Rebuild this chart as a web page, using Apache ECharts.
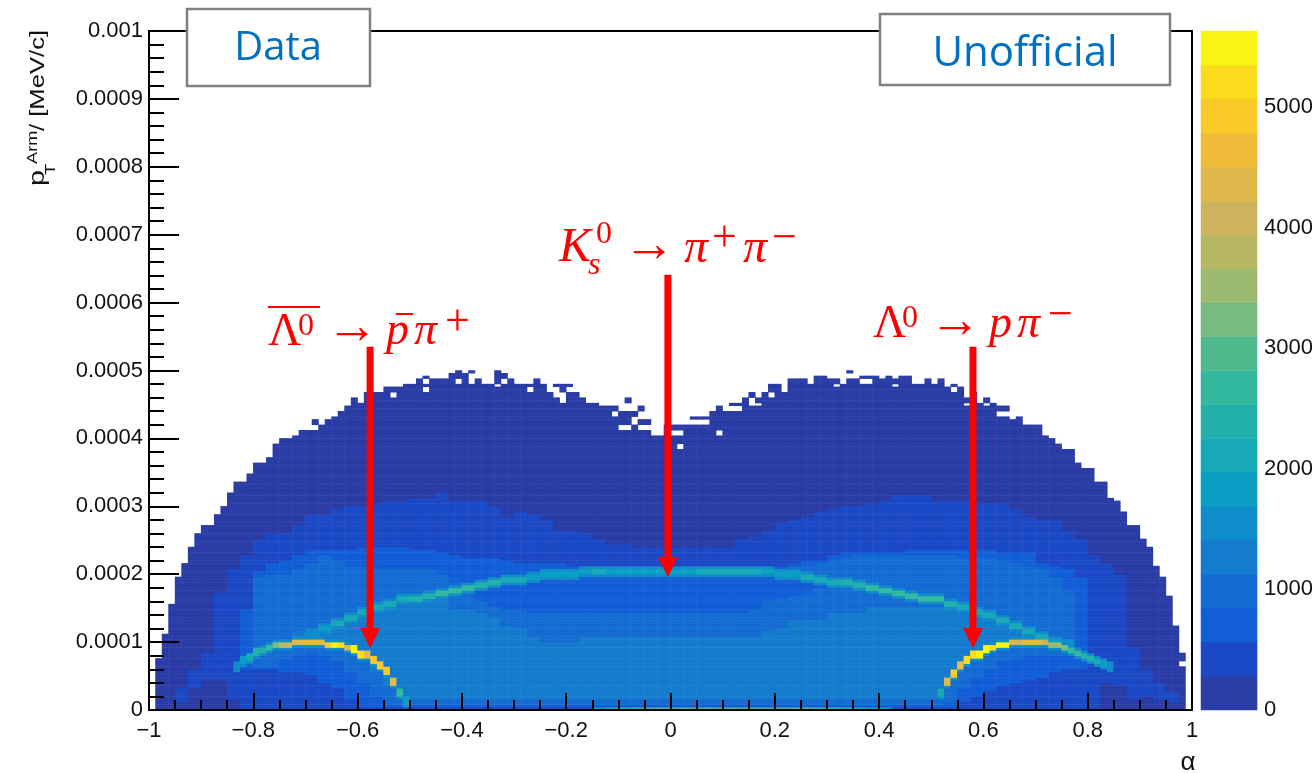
<!DOCTYPE html>
<html><head><meta charset="utf-8">
<style>html,body{margin:0;padding:0;background:#fff}#c{width:1316px;height:773px}</style>
<script src="https://cdn.jsdelivr.net/npm/echarts@6/dist/echarts.min.js"></script>
</head><body><div id="c"></div>
<script>
// Tick labels
const xTickLabels = ['\u22121','\u22120.8','\u22120.6','\u22120.4','\u22120.2','0','0.2','0.4','0.6','0.8','1'];
const yTickLabels = ['0','0.0001','0.0002','0.0003','0.0004','0.0005','0.0006','0.0007','0.0008','0.0009','0.001'];
const colorTicks = [0,1000,2000,3000,4000,5000];
const COLOR_MAX = 5630;
// The 20 colour bands of the z scale, low to high
const palette = ['#2a3ca6','#1b49c6','#115ed7','#146cd3','#147bcd','#0e8dca','#0b9ec5','#17a9b6','#23b0ab','#33b8a0',
  '#50ba8e','#78bb80','#9bbb70','#b8b862','#cdb35e','#e0b84c','#f0bb38','#fcca28','#fbdc1c','#f8f414'];
const NCOL = 160, NROW = 250;
// Height (row number, 4e-6 per row) of the filled area per alpha column
const outerTop = [0,19,28,39,49,54,60,65,68,68,72,75,80,84,84,87,91,91,93,98,
 100,100,101,103,103,107,105,107,108,110,112,115,113,117,117,117,119,119,119,120,
 120,122,123,122,122,122,124,125,124,125,122,120,120,125,124,122,120,120,120,122,
 120,120,120,120,120,117,115,113,113,112,112,112,110,115,110,112,107,101,101,105,
 105,105,105,108,108,108,110,112,110,113,113,115,117,115,117,120,120,117,122,122,
 122,120,123,123,122,122,120,125,122,123,123,123,122,123,122,123,123,120,120,122,
 120,122,119,120,119,115,117,113,115,113,112,112,107,108,105,105,105,101,100,98,
 96,96,91,89,89,84,84,78,77,73,68,68,63,60,53,49,42,31,21,0];
// Empty bins inside the filled area: column, first row, end row
const holes = [[25,103,105],[37,115,117],[42,120,122],[42,117,119],[47,120,122],[49,120,124],[53,119,120],[54,120,122],
 [58,117,119],[61,117,120],[62,115,119],[63,113,117],[64,117,119],[71,108,110],[72,103,105],[73,110,113],[73,103,105],
 [74,105,108],[75,107,110],[75,103,105],[76,103,105],[80,101,103],[81,101,103],[81,96,98],[83,105,107],[84,105,107],
 [85,105,107],[87,101,103],[89,110,112],[90,110,112],[92,112,115],[93,112,113],[95,115,117],[105,119,120],[107,122,124],
 [109,120,122],[110,120,122],[114,119,120],[123,117,119],[125,112,113],[128,112,113],[130,108,110],[131,108,110],[158,16,18]];
// Broad bands per 2-column section: first section, then upper and lower rows
const band1Start = 2;
const band1Top = [8,15,21,43,52,57,63,65,65,68,72,72,74,75,75,76,77,77,78,78,80,77,77,77,75,71,73,72,70,66,66,65,63,61,61,60,60,60,
 60,60,60,60,60,63,64,66,69,70,71,73,74,75,75,76,77,79,79,79,77,77,77,76,76,76,74,71,70,70,66,63,57,54,50,23,15,10,7];
const band1Low = [3,8,11,11,4,0,0,0,0,0,0,0,0,0,0,0,0,0,0,0,0,0,0,0,0,0,0,0,0,0,0,0,0,0,0,0,0,0,
 0,0,0,0,0,0,0,0,0,0,0,0,0,0,0,0,0,0,0,0,0,0,0,0,0,0,0,0,0,0,0,0,0,10,9,4,5,4,3];
const band2Start = 7;
const band2Top = [37,51,54,55,57,59,59,59,59,60,60,60,60,59,59,58,57,56,56,56,55,54,54,54,54,53,53,53,53,53,53,53,53,53,53,53,53,53,53,53,53,53,
 54,55,55,57,58,58,58,58,58,59,59,59,59,59,59,59,58,58,58,54,53,52,49];
const band2Low = [15,15,15,14,14,13,10,8,4,1,1,1,1,1,1,1,1,1,1,1,1,1,1,1,1,1,1,1,1,1,1,1,1,1,1,1,1,1,1,1,1,1,
 1,1,1,1,1,1,1,1,1,1,1,1,1,3,5,7,9,10,11,12,14,15,15,15].slice(0,66);
const band3Start = 8;
const band3Top = [49,50,50,52,54,57,55,53,53,52,52,52,52,52,50,47,47,47,47,47,50,50,50,50,50,50,50,50,50,50,50,50,50,50,50,50,50,50,50,50,50,
 53,53,54,55,56,57,57,57,57,57,57,57,57,56,56,56,55,54,53,52,49,44];
const band3Low = [16,16,19,20,21,20,18,14,10,5,2,2,2,2,2,2,2,2,2,2,2,2,2,2,2,2,2,2,2,2,2,2,2,2,2,2,2,2,2,2,2,2,2,2,2,2,2,2,2,2,2,2,
 2,3,8,12,15,18,19,20,20,20,20];
const underRidgeStart = 25;
const underRidgeTop = [47,48,48,49,50,50,50,50,50,50,50,50,50,50,50,50,50,50,50,50,50,50,50,50,49,48,48];
const underRidgeLow = [40,38,37,37,36,36,36,36,36,36,36,36,36,36,36,36,36,36,36,36,36,37,40,41,42,43,45];
const band4Start = 13;
const band4Top = [30,31,33,35,37,38,39,40,40,41,37,37,36,34,31,30,27,25,25,25,27,27,27,27,27,27,27,27,27,27,27,27,27,27,
 29,30,33,33,33,36,36,36,38,38,38,38,38,38,39,36,35,33,31,29];
const band4Low = [26,24,22,18,14,9,4,4,4,4,4,4,4,4,4,4,4,4,4,4,4,4,4,4,4,4,4,4,4,4,4,4,4,4,4,4,4,4,4,4,4,4,4,4,4,4,4,4,11,18,21,24,25,26];
// K0s arc per section
const ridgeStart = 11;
const ridgeRow = [27,28,30,32,34,36,38,39,41,41,42,43,44,45,46,47,48,48,49,50,50,50,51,51,51,51,51,51,51,51,
 51,51,51,51,51,51,51,50,50,49,48,47,47,46,45,44,43,42,41,41,39,38,36,35,33,31,29,27,25,24];
const ridgeLevel = [4,5,6,7,7,7,7,7,7,8,8,9,9,9,8,8,7,7,6,6,6,6,6,7,6,6,6,6,6,6,
 6,7,7,7,7,7,6,6,6,7,7,7,8,8,9,9,9,9,9,9,8,7,7,7,7,7,7,7,6,5];
// Lambda-bar arc per column
const lambdaBarStart = 13;
const lambdaBarRow = [16,18,19,21,22,23,24,24,24,25,25,25,25,25,24,24,24,23,22,20,20,18,16,14,10,6,3];
const lambdaBarLevel = [5,6,7,8,8,9,11,13,14,15,15,15,15,15,17,19,18,15,19,18,15,17,17,17,15,9,6];
// Lambda arc per column
const lambdaStart = 121;
const lambdaRow = [6,10,13,16,18,20,20,22,23,24,24,25,25,25,25,25,25,24,24,23,22,21,20,19,18,17,16];
const lambdaLevel = [7,15,17,16,18,18,19,19,18,19,19,15,14,15,15,15,14,12,12,11,9,9,8,8,7,6,5];
// Bright lowest row: first section and level per section
const floorStart = 34;
const floorLevel = [6,7,8,9,10,10,10,10,10,10,10,10,10,10,10,10,10,9,9,8,7,6,6];
// Annotation arrows: alpha, start pT, tip pT
const arrowAlpha = [-0.576,-0.005,0.58];
const arrowStart = [0.000535,0.000641,0.000535];
const arrowTip = [0.0000913,0.000196,0.0000913];

const cells = Array.from({length:NCOL},(_,c)=>new Int8Array(NROW).fill(-1));
for (let c=0;c<NCOL;c++) for (let r=0;r<outerTop[c];r++) cells[c][r]=0;
function put(c,r,l){ if(c>=0&&c<NCOL&&r>=0&&r<NROW&&cells[c][r]>=0) cells[c][r]=l; }
function band(level,start,tops,lows){
  tops.forEach((t,k)=>{ const s=start+k; for(const c of [2*s,2*s+1]) for(let r=lows[k];r<t;r++) put(c,r,level); });
}
band(1,band1Start,band1Top,band1Low);
band(2,band2Start,band2Top,band2Low);
band(3,band3Start,band3Top,band3Low);
band(2,underRidgeStart,underRidgeTop,underRidgeLow);
band(4,band4Start,band4Top,band4Low);
ridgeRow.forEach((r,k)=>{ const s=ridgeStart+k, l=ridgeLevel[k];
  for(const c of [2*s,2*s+1]){
    for(let q=r-2;q<=r+1;q++) if(cells[c][q]<Math.min(5,l)) put(c,q,Math.min(5,l));
    put(c,r,l); put(c,r-1,l);
  }});
function arc(start,rows,levels){
  rows.forEach((r,k)=>{ const c=start+k, l=levels[k];
    for(let q=r-2;q<=r+1;q++) if(cells[c][q]<Math.min(5,l)) put(c,q,Math.min(5,l));
    const steep=Math.abs((rows[k+1]??r)-r)>=2||Math.abs(r-(rows[k-1]??r))>=2;
    put(c,r,l); put(c,r-1,l); if(steep) put(c,r+1,l);
  });
}
arc(lambdaBarStart,lambdaBarRow,lambdaBarLevel);
arc(lambdaStart,lambdaRow,lambdaLevel);
floorLevel.forEach((l,k)=>{ const s=floorStart+k; put(2*s,0,l); put(2*s+1,0,l); });
holes.forEach(([c,a,b])=>{ for(let r=a;r<b;r++) cells[c][r]=-1; });

const step = COLOR_MAX/palette.length;
const toValue = l => (l+0.5)*step;
const heat=[];
cells.forEach((col,c)=>col.forEach((l,r)=>{ if(l>=0) heat.push([c,r,toValue(l)]); }));
const barData = palette.map((_,k)=>[0,k,toValue(k)]);

const RED='#FF0000';
const mathText = [
 // text, x, y middle, size, italic
 ['K',559,248,48,1],['0',596,235,32,0],['s',588,266,32,1],['\u2192',623,247,52,0],['\u03c0',684,249,48,1],['+',712,239,44,0],['\u03c0',743,249,48,1],['\u2212',772,239,44,0],
 ['\u039b',268,333,46,0],['0',298,327,32,0],['\u2192',326,329,52,0],['p',386,332,46,1],['\u03c0',414,332,46,1],['+',445,323,44,0],
 ['\u039b',873,325,46,0],['0',902,319,32,0],['\u2192',929,323,52,0],['p',989,325,46,1],['\u03c0',1017,325,46,1],['\u2212',1048,316,44,0]
];
const graphicEls = [
 {type:'rect',z:100,shape:{x:187,y:9,width:183,height:77},style:{fill:'#fff',stroke:'#808080',lineWidth:2.5}},
 {type:'rect',z:100,shape:{x:880,y:14,width:290,height:71},style:{fill:'#fff',stroke:'#808080',lineWidth:2.5}},
 {type:'text',z:101,style:{text:'Data',x:278,y:49,align:'center',verticalAlign:'middle',font:'40px "Open Sans"',fill:'#0070C0'}},
 {type:'text',z:101,style:{text:'Unofficial',x:1025,y:54,align:'center',verticalAlign:'middle',font:'42px "Open Sans"',fill:'#0070C0'}},
 {type:'rect',z:101,shape:{x:268,y:306,width:52,height:2},style:{fill:RED}},
 {type:'rect',z:101,shape:{x:396,y:313,width:17,height:2},style:{fill:RED}},
 {type:'text',z:101,rotation:Math.PI/2,x:38,y:131,scaleX:1.22,style:{text:'/ [MeV/c]',align:'left',verticalAlign:'middle',font:'21px "Liberation Sans"',fill:'#111'}},
 {type:'text',z:101,rotation:Math.PI/2,x:33,y:164,scaleX:1.3,style:{text:'Arm',align:'left',verticalAlign:'middle',font:'14px "Liberation Sans"',fill:'#111'}},
 {type:'text',z:101,rotation:Math.PI/2,x:51,y:175,scaleX:1.3,style:{text:'T',align:'left',verticalAlign:'middle',font:'14px "Liberation Sans"',fill:'#111'}},
 {type:'text',z:101,rotation:Math.PI/2,x:38,y:186,scaleX:1.3,style:{text:'p',align:'left',verticalAlign:'middle',font:'22px "Liberation Sans"',fill:'#111'}},
 {type:'text',z:101,style:{text:'\u03b1',x:1188,y:763,align:'center',verticalAlign:'middle',font:'26px "Liberation Sans"',fill:'#111'}}
].concat(mathText.map(([t,x,y,s,i])=>({type:'text',z:101,style:{text:t,x,y,align:'left',verticalAlign:'middle',font:(i?'italic ':'')+s+'px "Liberation Serif"',fill:RED}})));

const LINE={color:'#000',width:2};
const chart=echarts.init(document.getElementById('c'),null,{renderer:'canvas'});
chart.setOption({
 animation:false,
 backgroundColor:'#fff',
 grid:[
  {left:149,top:31,width:1043,height:679,show:true,borderColor:'#000',borderWidth:2,backgroundColor:'transparent'},
  {left:1201,top:31,width:58,height:679}
 ],
 xAxis:[
  {type:'category',gridIndex:0,show:false,data:cells.map((_,i)=>String(i))},
  {type:'value',gridIndex:0,min:-1,max:1,interval:0.2,position:'bottom',z:10,
   axisLine:{onZero:false,lineStyle:LINE},
   axisTick:{inside:true,length:17,lineStyle:LINE},
   minorTick:{show:true,splitNumber:4,length:10,lineStyle:LINE},
   splitLine:{show:false},
   axisLabel:{margin:10,fontSize:22,fontFamily:'Liberation Sans',color:'#111',showMinLabel:true,showMaxLabel:true,
     formatter:v=>xTickLabels[Math.round((v+1)/0.2)]}},
  {type:'category',gridIndex:1,show:false,data:['z']}
 ],
 yAxis:[
  {type:'category',gridIndex:0,show:false,data:Array.from({length:NROW},(_,i)=>String(i))},
  {type:'value',gridIndex:0,min:0,max:0.001,interval:0.0001,position:'left',z:10,
   axisLine:{onZero:false,lineStyle:LINE},
   axisTick:{inside:true,length:30,lineStyle:LINE},
   minorTick:{show:true,splitNumber:5,length:15,lineStyle:LINE},
   splitLine:{show:false},
   axisLabel:{margin:6,fontSize:22,fontFamily:'Liberation Sans',color:'#111',showMinLabel:true,showMaxLabel:true,
     formatter:v=>yTickLabels[Math.round(v/0.0001)]}},
  {type:'category',gridIndex:1,show:false,data:palette.map((_,i)=>String(i))},
  {type:'value',gridIndex:1,min:0,max:COLOR_MAX,position:'right',z:10,
   axisLine:{onZero:false,lineStyle:LINE},
   axisTick:{inside:true,length:31,lineStyle:LINE,customValues:colorTicks},
   splitLine:{show:false},
   axisLabel:{margin:7,fontSize:22,fontFamily:'Liberation Sans',color:'#111',customValues:colorTicks,formatter:v=>String(v)}}
 ],
 visualMap:{type:'piecewise',show:false,seriesIndex:[0,1],dimension:2,
   pieces:palette.map((c,k)=>({min:k*step,max:(k+1)*step,color:c}))},
 series:[
  {type:'heatmap',xAxisIndex:0,yAxisIndex:0,data:heat,progressive:0,itemStyle:{borderWidth:0},emphasis:{disabled:true}},
  {type:'heatmap',xAxisIndex:2,yAxisIndex:2,data:barData,progressive:0,emphasis:{disabled:true}},
  {type:'custom',xAxisIndex:1,yAxisIndex:1,z:6,clip:false,silent:true,
   data:arrowAlpha.map((a,i)=>[a,arrowStart[i],arrowTip[i]]),
   renderItem:(p,api)=>{
     const top=api.coord([api.value(0),api.value(1)]), tip=api.coord([api.value(0),api.value(2)]);
     const H=20,W=10,S=3.5;
     return {type:'group',children:[
       {type:'rect',shape:{x:top[0]-S,y:top[1],width:2*S,height:tip[1]-top[1]-H+1},style:{fill:RED}},
       {type:'polygon',shape:{points:[[tip[0]-W,tip[1]-H],[tip[0]+W,tip[1]-H],[tip[0],tip[1]]]},style:{fill:RED}}
     ]};
   }}
 ],
 graphic:{elements:graphicEls}
});
</script></body></html>
